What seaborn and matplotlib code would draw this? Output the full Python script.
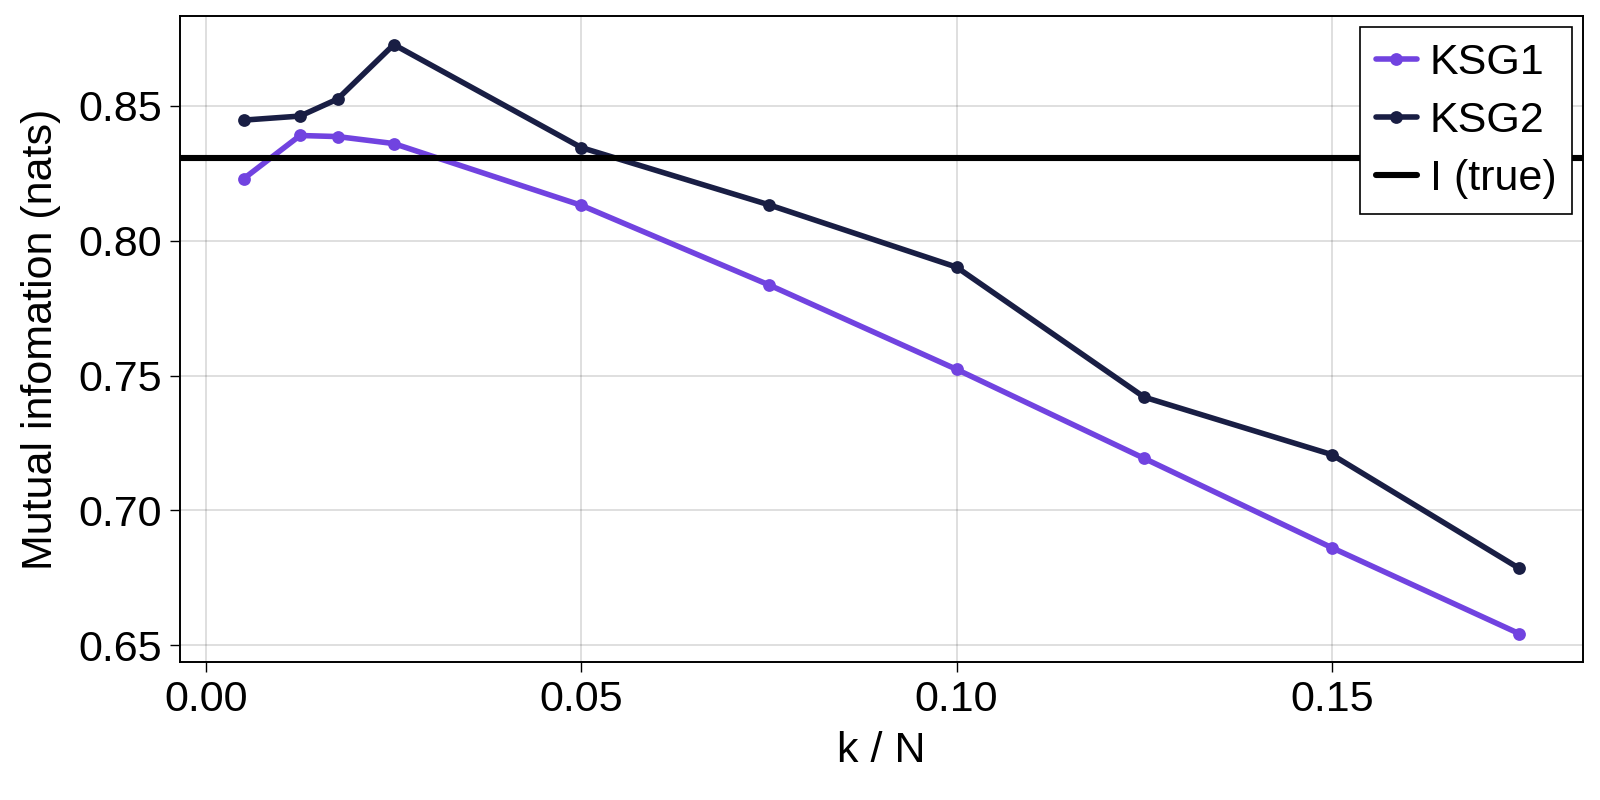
import numpy as np
import pandas as pd
import matplotlib
matplotlib.use("Agg")
import matplotlib.pyplot as plt
import seaborn as sns

# Data
k_over_n = [0.005, 0.0125, 0.0175, 0.025, 0.05, 0.075, 0.10, 0.125, 0.15, 0.175]
ksg1 = [0.823, 0.839, 0.8386, 0.836, 0.8131, 0.7836, 0.7523, 0.7193, 0.6862, 0.6543]
ksg2 = [0.8447, 0.8462, 0.8525, 0.8727, 0.8345, 0.8133, 0.7902, 0.7420, 0.7207, 0.6785]
i_true = 0.8305

series_names = ["KSG1", "KSG2"]
series_colors = ["#7143e0", "#191e44"]

df = pd.DataFrame({
    "k / N": k_over_n * 2,
    "MI": ksg1 + ksg2,
    "estimator": ["KSG1"] * len(ksg1) + ["KSG2"] * len(ksg2),
})

sns.set_theme(style="white")
plt.rcParams["font.family"] = ["Liberation Sans", "DejaVu Sans"]
plt.rcParams["text.color"] = "black"
plt.rcParams["axes.labelcolor"] = "black"
plt.rcParams["xtick.color"] = "black"
plt.rcParams["ytick.color"] = "black"

fig = plt.figure(figsize=(8, 4), dpi=200)
ax = fig.add_axes([0.1125, 0.1725, 0.8769, 0.8075])

for name, color in zip(series_names, series_colors):
    sub = df[df["estimator"] == name]
    sns.lineplot(data=sub, x="k / N", y="MI", ax=ax, color=color, lw=2.0,
                 marker="o", markersize=4.6, markeredgewidth=0, label=name,
                 zorder=3)

ax.axhline(i_true, color="black", lw=2.2, label="I (true)", zorder=4)

ax.set_xlim(-0.0035, 0.1835)
ax.set_ylim(0.6438, 0.8833)
ax.set_xticks([0.0, 0.05, 0.10, 0.15])
ax.set_xticklabels(["0.00", "0.05", "0.10", "0.15"])
ax.set_yticks([0.65, 0.70, 0.75, 0.80, 0.85])
ax.set_yticklabels(["0.65", "0.70", "0.75", "0.80", "0.85"])

ax.grid(True, color="black", alpha=0.15, lw=0.6)
for sp in ax.spines.values():
    sp.set_color("black")
    sp.set_linewidth(0.7)
ax.tick_params(axis="both", which="major", direction="out", length=3.6,
               width=0.5, color="black", labelsize=15.5, pad=3,
               bottom=True, left=True)

ax.set_xlabel("k / N", fontsize=15.5, labelpad=4)
ax.set_ylabel("Mutual infomation (nats)", fontsize=15.5, labelpad=6)

leg = ax.legend(loc="upper right", fontsize=15.5, frameon=True, fancybox=False,
                framealpha=1, edgecolor="black", borderaxespad=0.26,
                handlelength=0.95, handletextpad=0.3, labelspacing=0.42,
                borderpad=0.36)
leg.get_frame().set_linewidth(0.6)

fig.savefig("out.png", dpi=200)
